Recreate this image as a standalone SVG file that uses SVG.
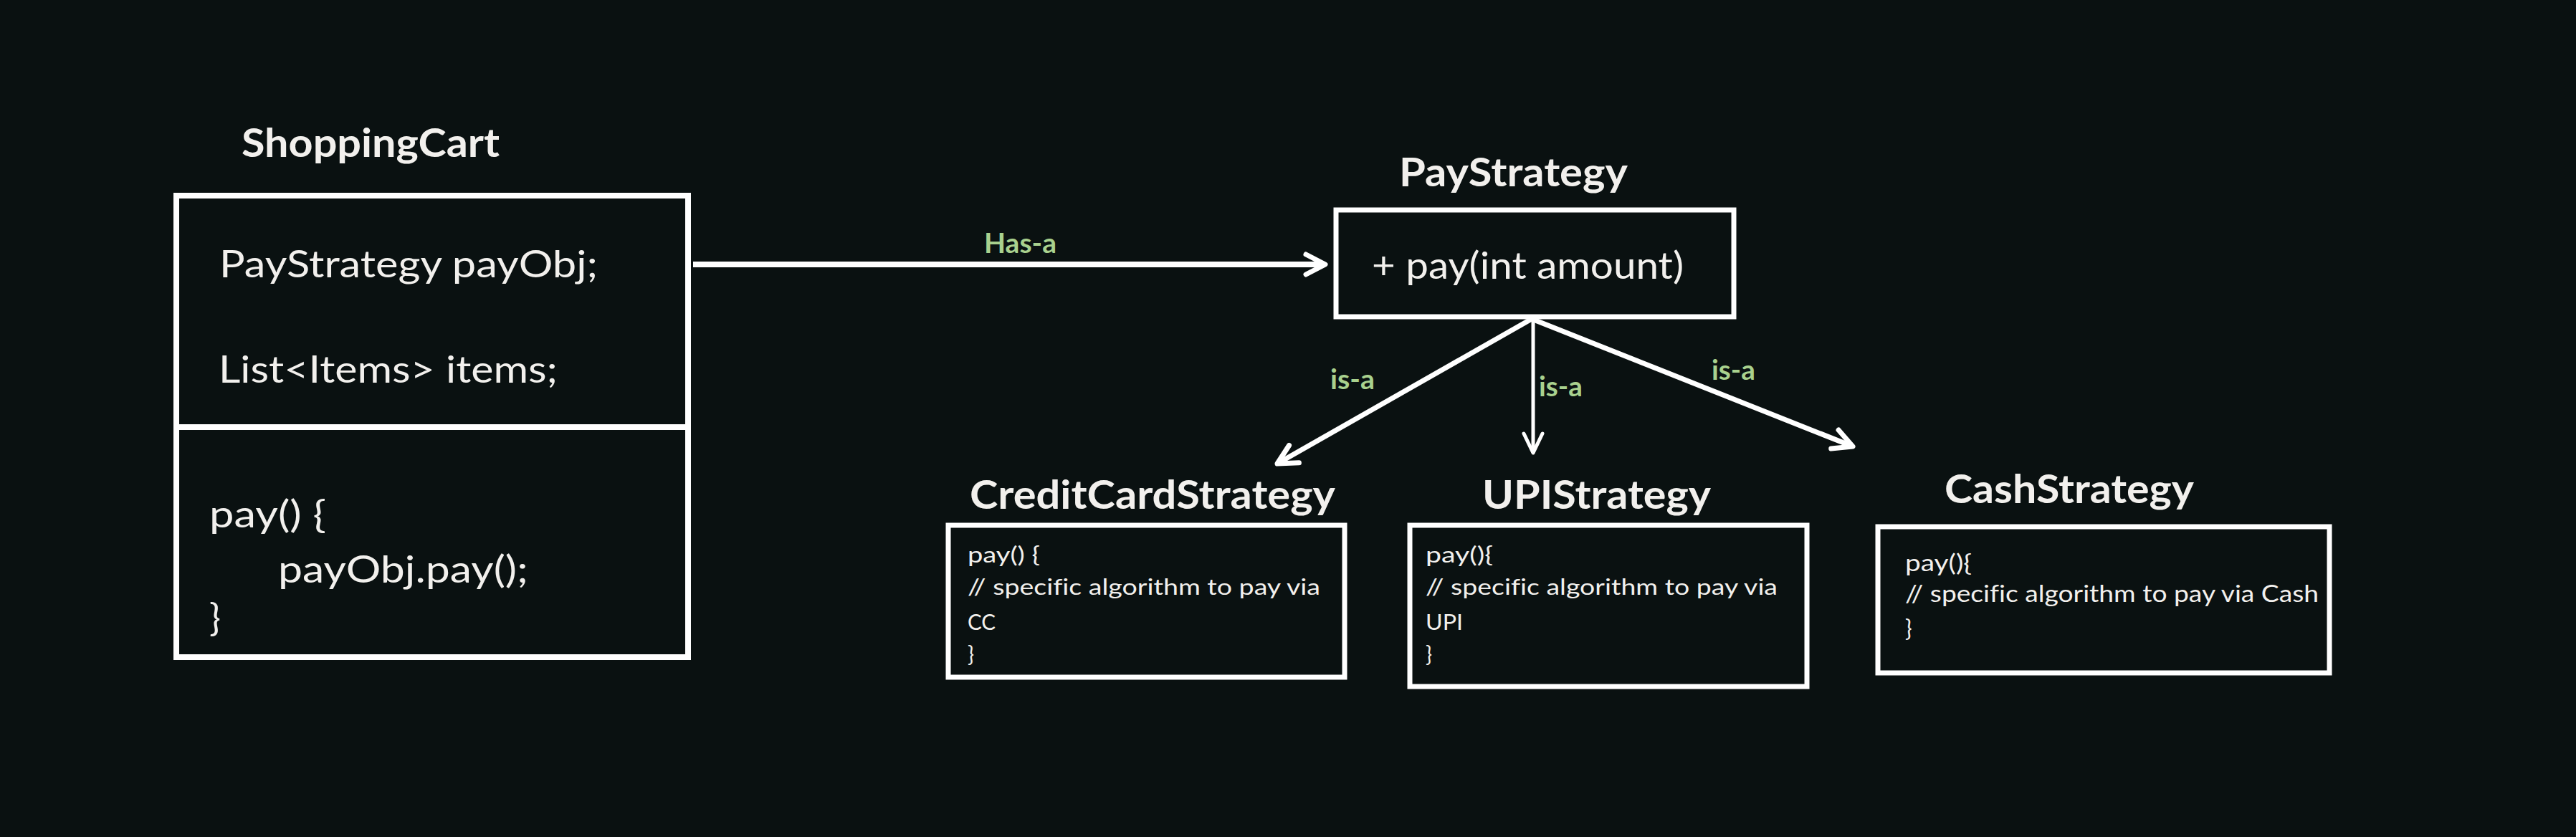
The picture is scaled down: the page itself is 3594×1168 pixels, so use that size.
<svg xmlns="http://www.w3.org/2000/svg" width="3594" height="1168" viewBox="0 0 3594 1168">
<style>
.box{fill:none;stroke:#ffffff;stroke-width:7}
.t{font-family:Lato,"Open Sans","Liberation Sans",sans-serif;fill:#f2f0ed;font-variant-ligatures:none}
.title{font-weight:bold;font-size:55px}
.body{font-size:53px}
.small{font-size:30px}
.small2{font-size:32px}
.lbl{font-family:Lato,"Open Sans","Liberation Sans",sans-serif;font-weight:bold;font-size:39px;fill:#a9d18e}
.conn{fill:none;stroke:#ffffff;stroke-width:7}
.thin{stroke-width:5}
</style>
<defs>
<marker id="arr" markerUnits="userSpaceOnUse" viewBox="-34 -20 40 40" markerWidth="40" markerHeight="40" refX="0" refY="0" orient="auto">
<path d="M-27,-14 L0,0 L-27,14" fill="none" stroke="#ffffff" stroke-width="7" stroke-linecap="round" stroke-linejoin="round"/>
</marker>
<marker id="arrThin" markerUnits="userSpaceOnUse" viewBox="-34 -20 40 40" markerWidth="40" markerHeight="40" refX="0" refY="0" orient="auto">
<path d="M-27,-13 L0,0 L-27,13" fill="none" stroke="#ffffff" stroke-width="5" stroke-linecap="round" stroke-linejoin="round"/>
</marker>
</defs>
<rect x="0" y="0" width="3594" height="1168" fill="#0a1111"/>

<g id="shoppingCart">
<text class="t title" x="337" y="219" textLength="360" lengthAdjust="spacingAndGlyphs">ShoppingCart</text>
<rect class="box" x="246" y="273" width="714" height="644" style="stroke-width:8"/>
<line class="box" x1="246" y1="596" x2="960" y2="596" style="stroke-width:8"/>
<text class="t body" x="306" y="387" textLength="528" lengthAdjust="spacingAndGlyphs">PayStrategy payObj;</text>
<text class="t body" x="305" y="534" textLength="473" lengthAdjust="spacingAndGlyphs">List&lt;Items&gt; items;</text>
<text class="t body" x="292" y="736" textLength="163" lengthAdjust="spacingAndGlyphs">pay() {</text>
<text class="t body" x="388" y="813" textLength="349" lengthAdjust="spacingAndGlyphs">payObj.pay();</text>
<text class="t body" x="292" y="880">}</text>
</g>

<g id="payStrategy">
<text class="t title" x="1952" y="260" textLength="319" lengthAdjust="spacingAndGlyphs">PayStrategy</text>
<rect class="box" x="1864" y="293" width="555" height="149"/>
<text class="t body" x="1914" y="389" textLength="435" lengthAdjust="spacingAndGlyphs">+ pay(int amount)</text>
</g>

<g id="creditCardStrategy">
<text class="t title" x="1353" y="710" textLength="510" lengthAdjust="spacingAndGlyphs">CreditCardStrategy</text>
<rect class="box" x="1323" y="733" width="553" height="212"/>
<text class="t small" x="1350" y="785" textLength="101" lengthAdjust="spacingAndGlyphs">pay() {</text>
<text class="t small" x="1350" y="830" textLength="492" lengthAdjust="spacingAndGlyphs">// specific algorithm to pay via</text>
<text class="t small" x="1350" y="879" textLength="39" lengthAdjust="spacingAndGlyphs">CC</text>
<text class="t small" x="1350" y="924">}</text>
</g>

<g id="upiStrategy">
<text class="t title" x="2068" y="710" textLength="319" lengthAdjust="spacingAndGlyphs">UPIStrategy</text>
<rect class="box" x="1967" y="733" width="554" height="225"/>
<text class="t small" x="1989" y="785" textLength="94" lengthAdjust="spacingAndGlyphs">pay(){</text>
<text class="t small" x="1989" y="830" textLength="491" lengthAdjust="spacingAndGlyphs">// specific algorithm to pay via</text>
<text class="t small" x="1989" y="879" textLength="52" lengthAdjust="spacingAndGlyphs">UPI</text>
<text class="t small" x="1989" y="924">}</text>
</g>

<g id="cashStrategy">
<text class="t title" x="2713" y="702" textLength="348" lengthAdjust="spacingAndGlyphs">CashStrategy</text>
<rect class="box" x="2620" y="735" width="630" height="204"/>
<text class="t small2" x="2658" y="797" textLength="93" lengthAdjust="spacingAndGlyphs">pay(){</text>
<text class="t small2" x="2658" y="840" textLength="577" lengthAdjust="spacingAndGlyphs">// specific algorithm to pay via Cash</text>
<text class="t small2" x="2658" y="888">}</text>
</g>

<g id="connectors">
<path class="conn" d="M967,369 L1849,369" style="stroke-width:8" marker-end="url(#arr)"/>
<text class="lbl" x="1373" y="353" textLength="101" lengthAdjust="spacingAndGlyphs">Has-a</text>
<path class="conn" d="M2137,445 L1782,647" marker-end="url(#arr)"/>
<text class="lbl" x="1856" y="543" textLength="62" lengthAdjust="spacingAndGlyphs">is-a</text>
<path class="conn thin" d="M2139,445 L2139,632" marker-end="url(#arrThin)"/>
<text class="lbl" x="2147" y="553" textLength="61" lengthAdjust="spacingAndGlyphs">is-a</text>
<path class="conn" d="M2137,445 L2585,623" marker-end="url(#arr)"/>
<text class="lbl" x="2388" y="530" textLength="61" lengthAdjust="spacingAndGlyphs">is-a</text>
</g>
</svg>
